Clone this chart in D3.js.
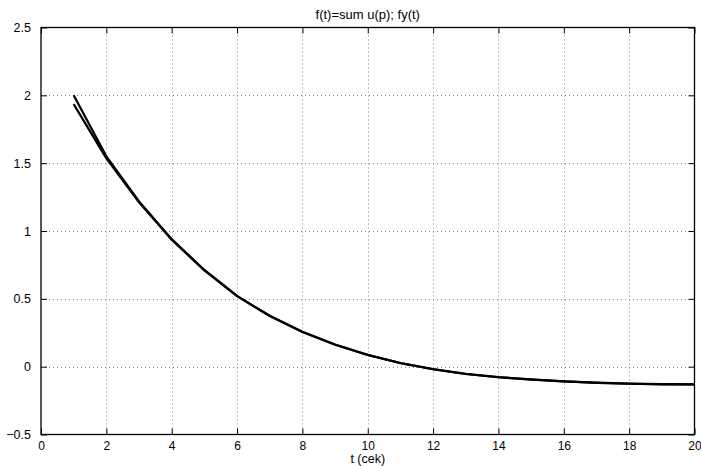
<!DOCTYPE html>
<html><head><meta charset="utf-8">
<script src="https://cdn.jsdelivr.net/npm/d3@7"></script>
<style>
body{margin:0;background:#fff;}
svg{display:block;font-family:"Liberation Sans",Arial,Helvetica,sans-serif;}
</style></head>
<body>
<svg id="chart" width="701" height="466"></svg>
<script>
const tValues = [1,2,3,4,5,6,7,8,9,10,11,12,13,14,15,16,17,18,19,20];
const sumU = [2.0,1.55,1.218,0.94,0.713,0.522,0.375,0.258,0.163,0.087,0.027,-0.018,-0.053,-0.077,-0.094,-0.108,-0.118,-0.125,-0.129,-0.13];
const fyT = [1.935,1.535,1.212,0.935,0.71,0.52,0.373,0.256,0.162,0.086,0.026,-0.019,-0.054,-0.078,-0.095,-0.109,-0.119,-0.126,-0.13,-0.131];
const xTicks = [0,2,4,6,8,10,12,14,16,18,20];
const yTicks = [-0.5,0,0.5,1,1.5,2,2.5];
const titleText = "f(t)=sum u(p); fy(t)";
const xLabel = "t (cek)";

const svg = d3.select("#chart");
const m = {left:41, right:694.5, top:27.5, bottom:434.5};
const x = d3.scaleLinear().domain([0,20]).range([m.left, m.right]);
const y = d3.scaleLinear().domain([-0.5,2.5]).range([m.bottom, m.top]);

// grid
const g = svg.append("g");
g.selectAll("line.vg").data(xTicks.slice(1,-1)).join("line")
  .attr("x1",d=>Math.round(x(d))+0.5).attr("x2",d=>Math.round(x(d))+0.5)
  .attr("y1",m.top).attr("y2",m.bottom)
  .attr("stroke","#888").attr("stroke-width",1).attr("stroke-dasharray","1,3");
g.selectAll("line.hg").data(yTicks.slice(1,-1)).join("line")
  .attr("y1",d=>Math.round(y(d))+0.5).attr("y2",d=>Math.round(y(d))+0.5)
  .attr("x1",m.left).attr("x2",m.right)
  .attr("stroke","#888").attr("stroke-width",1).attr("stroke-dasharray","1,3");

// lines
const line = d3.line().x((d,i)=>x(tValues[i])).y(d=>y(d));
[sumU, fyT].forEach(s=>{
  svg.append("path").datum(s).attr("d",line)
    .attr("fill","none").attr("stroke","#000").attr("stroke-width",2.2)
    .attr("stroke-linejoin","round");
});

// axes (ticks inward on all four sides)
const tl = 6;
svg.append("g").attr("transform",`translate(0,${m.bottom})`)
  .call(d3.axisBottom(x).tickValues(xTicks).tickSize(-tl).tickPadding(tl+1).tickFormat(d3.format("d")))
  .call(a=>{a.select(".domain").remove(); a.selectAll("text").attr("font-size",12).attr("fill","#000");});
svg.append("g").attr("transform",`translate(0,${m.top})`)
  .call(d3.axisTop(x).tickValues(xTicks).tickSize(-tl).tickFormat(""))
  .call(a=>a.select(".domain").remove());
svg.append("g").attr("transform",`translate(${m.left},0)`)
  .call(d3.axisLeft(y).tickValues(yTicks).tickSize(-tl).tickPadding(tl+4).tickFormat(d=>d3.format("")(d).replace("-","\u2212")))
  .call(a=>{a.select(".domain").remove(); a.selectAll("text").attr("font-size",12.5).attr("fill","#000");});
svg.append("g").attr("transform",`translate(${m.right},0)`)
  .call(d3.axisRight(y).tickValues(yTicks).tickSize(-tl).tickFormat(""))
  .call(a=>a.select(".domain").remove());
svg.selectAll(".tick line").attr("stroke","#000");

svg.append("rect").attr("x",m.left).attr("y",m.top)
  .attr("width",m.right-m.left).attr("height",m.bottom-m.top)
  .attr("fill","none").attr("stroke","#000").attr("stroke-width",1.3);

svg.append("text").attr("x",(m.left+m.right)/2).attr("y",19)
  .attr("text-anchor","middle").attr("font-size",13).text(titleText);
svg.append("text").attr("x",(m.left+m.right)/2).attr("y",462.5)
  .attr("text-anchor","middle").attr("font-size",12.5).text(xLabel);
</script>
</body></html>
